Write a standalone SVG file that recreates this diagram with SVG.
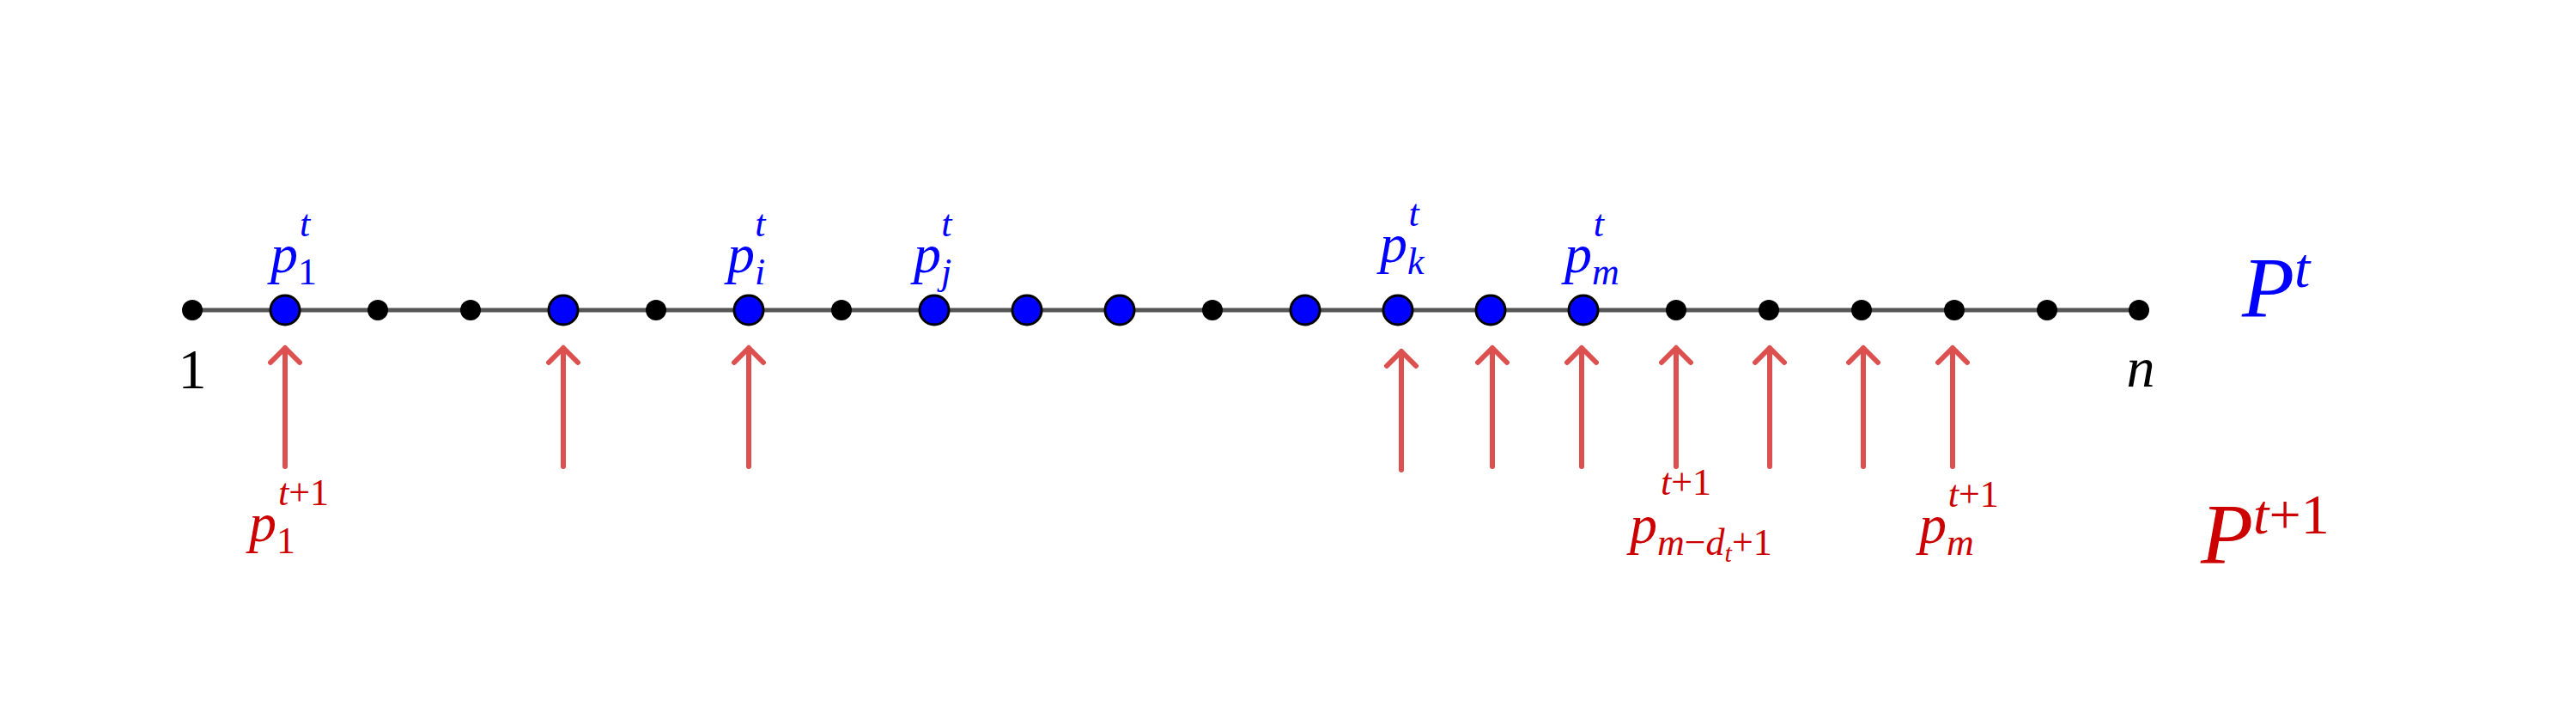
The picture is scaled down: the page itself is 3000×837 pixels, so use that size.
<svg xmlns="http://www.w3.org/2000/svg" width="3000" height="837" viewBox="0 0 3000 837">
<style>
.s{fill:#000}
.b{fill:#0000ff;stroke:#000;stroke-width:3}
.ar{stroke:#dc5050;stroke-width:6;fill:none;stroke-linecap:round;stroke-linejoin:round}
text{font-family:"Liberation Serif","DejaVu Serif",serif;font-style:italic}
.bl{fill:#0000ff;font-size:64px}
.rd{fill:#cc0000;font-size:64px}
.sm{font-size:44px}
.nr{font-style:normal}
</style>
<rect width="3000" height="837" fill="#fff"/>
<g id="line"><line x1="224" y1="361" x2="2491" y2="361" stroke="#555" stroke-width="5"/></g>
<g id="nodes">
<circle id="n1" class="s" cx="224" cy="361" r="12"/>
<circle id="n2" class="b" cx="332" cy="361" r="17"/>
<circle id="n3" class="s" cx="440" cy="361" r="12"/>
<circle id="n4" class="s" cx="548" cy="361" r="12"/>
<circle id="n5" class="b" cx="656" cy="361" r="17"/>
<circle id="n6" class="s" cx="764" cy="361" r="12"/>
<circle id="n7" class="b" cx="872" cy="361" r="17"/>
<circle id="n8" class="s" cx="980" cy="361" r="12"/>
<circle id="n9" class="b" cx="1088" cy="361" r="17"/>
<circle id="n10" class="b" cx="1196" cy="361" r="17"/>
<circle id="n11" class="b" cx="1304" cy="361" r="17"/>
<circle id="n12" class="s" cx="1412" cy="361" r="12"/>
<circle id="n13" class="b" cx="1520" cy="361" r="17"/>
<circle id="n14" class="b" cx="1628" cy="361" r="17"/>
<circle id="n15" class="b" cx="1736" cy="361" r="17"/>
<circle id="n16" class="b" cx="1844" cy="361" r="17"/>
<circle id="n17" class="s" cx="1952" cy="361" r="12"/>
<circle id="n18" class="s" cx="2060" cy="361" r="12"/>
<circle id="n19" class="s" cx="2168" cy="361" r="12"/>
<circle id="n20" class="s" cx="2276" cy="361" r="12"/>
<circle id="n21" class="s" cx="2384" cy="361" r="12"/>
<circle id="n22" class="s" cx="2491" cy="361" r="12"/>
</g>
<g id="connectors" class="ar">
<path d="M332 543V405M315 422L332 405L349 422"/>
<path d="M656 543V405M639 422L656 405L673 422"/>
<path d="M872 543V405M855 422L872 405L889 422"/>
<path d="M1632 547V409M1615 426L1632 409L1649 426"/>
<path d="M1738 543V405M1721 422L1738 405L1755 422"/>
<path d="M1842 543V405M1825 422L1842 405L1859 422"/>
<path d="M1952 543V405M1935 422L1952 405L1969 422"/>
<path d="M2061 543V405M2044 422L2061 405L2078 422"/>
<path d="M2170 543V405M2153 422L2170 405L2187 422"/>
<path d="M2274 543V405M2257 422L2274 405L2291 422"/>
</g>
<g id="labels">
<text class="bl" x="315" y="317">p<tspan class="sm nr" dy="14">1</tspan><tspan class="sm" dx="-20" dy="-56">t</tspan></text>
<text class="bl" x="847" y="317">p<tspan class="sm" dy="14">i</tspan><tspan class="sm" dx="-12" dy="-56">t</tspan></text>
<text class="bl" x="1064" y="317">p<tspan class="sm" dy="14">j</tspan><tspan class="sm" dx="-12" dy="-56">t</tspan></text>
<text class="bl" x="1607" y="305">p<tspan class="sm" dy="14">k</tspan><tspan class="sm" dx="-18" dy="-56">t</tspan></text>
<text class="bl" x="1822" y="317">p<tspan class="sm" dy="14">m</tspan><tspan class="sm" dx="-30" dy="-56">t</tspan></text>
<text x="224" y="452" font-size="66" text-anchor="middle" class="nr">1</text>
<text x="2493" y="450" font-size="66" text-anchor="middle">n</text>
<text x="2611" y="368" font-size="100" fill="#0000ff">P<tspan font-size="66" dy="-34">t</tspan></text>
<text x="2563" y="655" font-size="100" fill="#cc0000">P<tspan font-size="66" dy="-34">t</tspan><tspan font-size="66" class="nr">+1</tspan></text>
<text class="rd" x="290" y="630">p<tspan class="sm nr" dy="14">1</tspan><tspan class="sm" dx="-20" dy="-56">t</tspan><tspan class="sm nr">+1</tspan></text>
<text class="rd" x="1898" y="632">p<tspan class="sm" dy="14">m</tspan><tspan class="sm nr">−</tspan><tspan class="sm">d</tspan><tspan font-size="30" dy="8">t</tspan><tspan class="sm nr" dy="-8">+1</tspan></text>
<text class="rd" x="1934" y="576"><tspan class="sm">t</tspan><tspan class="sm nr">+1</tspan></text>
<text class="rd" x="2235" y="632">p<tspan class="sm" dy="14">m</tspan><tspan class="sm" dx="-30" dy="-56">t</tspan><tspan class="sm nr">+1</tspan></text>
</g>
</svg>
